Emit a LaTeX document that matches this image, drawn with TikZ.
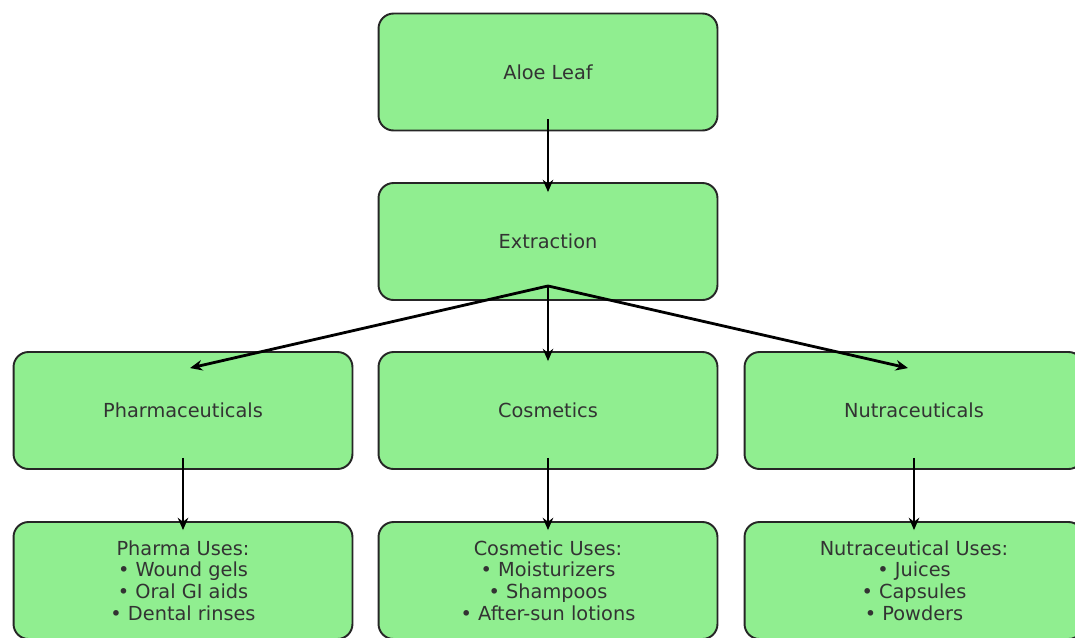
\documentclass[tikz,border=0pt]{standalone}
\usepackage{fontspec}
\setmainfont{DejaVu Sans}
\usetikzlibrary{calc,arrows.meta}
\definecolor{boxgreen}{HTML}{90EE90}

\begin{document}
\begin{tikzpicture}[x=0.02cm, y=-0.02cm, >={Stealth[length=7pt,width=6pt]},
  box/.style={draw=black!85, line width=1.1pt, fill=boxgreen, rounded corners=0.3cm,
    minimum width=6.78cm, minimum height=2.34cm, inner sep=0pt, align=center,
    text=black!80, font=\fontsize{11}{12.3}\selectfont},
  arr/.style={->, line width=1.6pt}]
  \useasboundingbox (0,0) rectangle (1075,637);
  \clip (0,0) rectangle (1075,637);

  \node[box] (leaf) at (548,72) {Aloe Leaf};
  \node[box] (extr) at (548,241.5) {Extraction};
  \node[box] (pharma) at (183,410.5) {Pharmaceuticals};
  \node[box] (cosm) at (548,410.5) {Cosmetics};
  \node[box] (nutra) at (914,410.5) {Nutraceuticals};
  \node[box] (pharmause) at (183,580.5) {Pharma Uses:\\• Wound gels\\• Oral GI aids\\• Dental rinses};
  \node[box] (cosmuse) at (548,580.5) {Cosmetic Uses:\\• Moisturizers\\• Shampoos\\• After-sun lotions};
  \node[box] (nutrause) at (914,580.5) {Nutraceutical Uses:\\• Juices\\• Capsules\\• Powders};

  \coordinate (fan) at ($(extr.south)+(0,-15)$);

  \draw[arr] ($(leaf.south)+(0,-12)$) -- ($(extr.north)+(0,10)$);
  \draw[arr] (fan) -- ($(pharma.north)+(7,17)$);
  \draw[arr] (fan) -- ($(cosm.north)+(0,10)$);
  \draw[arr] (fan) -- ($(nutra.north)+(-6,17)$);
  \draw[arr] ($(pharma.south)+(0,-12)$) -- ($(pharmause.north)+(0,9)$);
  \draw[arr] ($(cosm.south)+(0,-12)$) -- ($(cosmuse.north)+(0,9)$);
  \draw[arr] ($(nutra.south)+(0,-12)$) -- ($(nutrause.north)+(0,9)$);
\end{tikzpicture}
\end{document}
